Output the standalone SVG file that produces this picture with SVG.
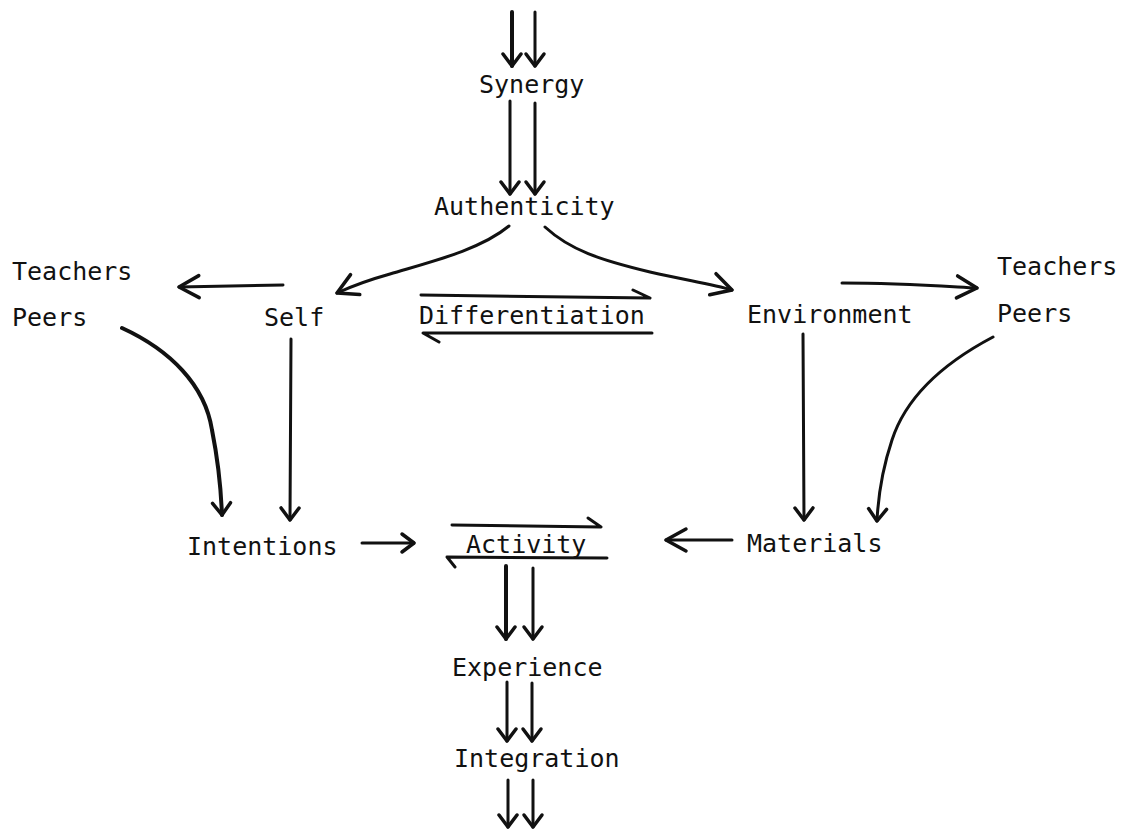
<svg xmlns="http://www.w3.org/2000/svg" width="1125" height="831" viewBox="0 0 1125 831">
  <style>
    .lbl { font-family: "DejaVu Sans Mono", "Liberation Mono", monospace; font-size: 25px; fill: #111; }
    .ln { fill: none; stroke: #111; stroke-width: 3; stroke-linecap: round; stroke-linejoin: round; }
    .thick { stroke-width: 4; }
  </style>
  <defs>
    <marker id="head" markerUnits="userSpaceOnUse" markerWidth="30" markerHeight="30" refX="0" refY="0" orient="auto" overflow="visible">
      <path d="M-12,-9 L0,0 L-12,9" fill="none" stroke="#111" stroke-width="3.5" stroke-linecap="round" stroke-linejoin="round"/>
    </marker>
    <marker id="bighead" markerUnits="userSpaceOnUse" markerWidth="40" markerHeight="40" refX="0" refY="0" orient="auto" overflow="visible">
      <path d="M-20,-11 L0,0 L-20,11" fill="none" stroke="#111" stroke-width="3.5" stroke-linecap="round" stroke-linejoin="round"/>
    </marker>
  </defs>
  <rect width="1125" height="831" fill="#fff"/>

  <!-- nodes -->
  <g id="synergy"><text class="lbl" x="479" y="93">Synergy</text></g>
  <g id="authenticity"><text class="lbl" x="434" y="215">Authenticity</text></g>
  <g id="teachers-left"><text class="lbl" x="12" y="280">Teachers</text><text class="lbl" x="12" y="326">Peers</text></g>
  <g id="self"><text class="lbl" x="264" y="326">Self</text></g>
  <g id="differentiation"><text class="lbl" x="419" y="324">Differentiation</text></g>
  <g id="environment"><text class="lbl" x="747" y="323">Environment</text></g>
  <g id="teachers-right"><text class="lbl" x="997" y="275">Teachers</text><text class="lbl" x="997" y="322">Peers</text></g>
  <g id="intentions"><text class="lbl" x="187" y="555">Intentions</text></g>
  <g id="activity"><text class="lbl" x="466" y="553">Activity</text></g>
  <g id="materials"><text class="lbl" x="747" y="552">Materials</text></g>
  <g id="experience"><text class="lbl" x="452" y="676">Experience</text></g>
  <g id="integration"><text class="lbl" x="454" y="767">Integration</text></g>

  <!-- connectors -->
  <g id="connectors">
    <!-- incoming pair above Synergy -->
    <path class="ln thick" d="M512,12 L512,66" marker-end="url(#head)"/>
    <path class="ln" d="M535,12 L535,66" marker-end="url(#head)"/>
    <!-- Synergy to Authenticity -->
    <path class="ln" d="M510,101 L510,194" marker-end="url(#head)"/>
    <path class="ln" d="M535,103 L535,194" marker-end="url(#head)"/>
    <!-- Authenticity branches -->
    <path class="ln" d="M509,226 C480,250 430,262 390,274 C365,281 350,287 337,293" marker-end="url(#bighead)"/>
    <path class="ln" d="M545,227 C570,250 600,260 650,272 C690,281 712,284 732,290" marker-end="url(#bighead)"/>
    <!-- Differentiation two-way -->
    <path class="ln" d="M421,295 L650,298 M633,290 L650,298"/>
    <path class="ln" d="M652,333 L423,333 L439,342"/>
    <!-- Self to Teachers/Peers -->
    <path class="ln" d="M283,285 L179,287" marker-end="url(#bighead)"/>
    <!-- Environment to Teachers/Peers -->
    <path class="ln" d="M842,283 C900,283 940,286 977,288" marker-end="url(#bighead)"/>
    <!-- Peers (left) to Intentions -->
    <path class="ln thick" d="M122,328 C170,350 205,385 212,430 C218,460 221,490 222,515" marker-end="url(#head)"/>
    <!-- Self to Intentions -->
    <path class="ln" d="M291,339 L290,520" marker-end="url(#head)"/>
    <!-- Environment to Materials -->
    <path class="ln" d="M803,334 L804,520" marker-end="url(#head)"/>
    <!-- Peers (right) to Materials -->
    <path class="ln" d="M993,337 C940,365 905,400 892,440 C882,470 878,500 877,521" marker-end="url(#head)"/>
    <!-- Intentions to Activity -->
    <path class="ln" d="M362,543 L414,543" marker-end="url(#head)"/>
    <!-- Materials to Activity -->
    <path class="ln" d="M732,540 L666,540" marker-end="url(#bighead)"/>
    <!-- Activity two-way -->
    <path class="ln" d="M452,525 L601,527 M588,518 L601,527"/>
    <path class="ln" d="M607,558 L447,557 L455,567"/>
    <!-- Activity to Experience -->
    <path class="ln thick" d="M506,566 L506,639" marker-end="url(#head)"/>
    <path class="ln" d="M533,568 L533,639" marker-end="url(#head)"/>
    <!-- Experience to Integration -->
    <path class="ln" d="M507,682 L507,741" marker-end="url(#head)"/>
    <path class="ln" d="M532,683 L532,741" marker-end="url(#head)"/>
    <!-- outgoing pair below Integration -->
    <path class="ln" d="M508,780 L508,827" marker-end="url(#head)"/>
    <path class="ln" d="M533,780 L533,827" marker-end="url(#head)"/>
  </g>
</svg>
